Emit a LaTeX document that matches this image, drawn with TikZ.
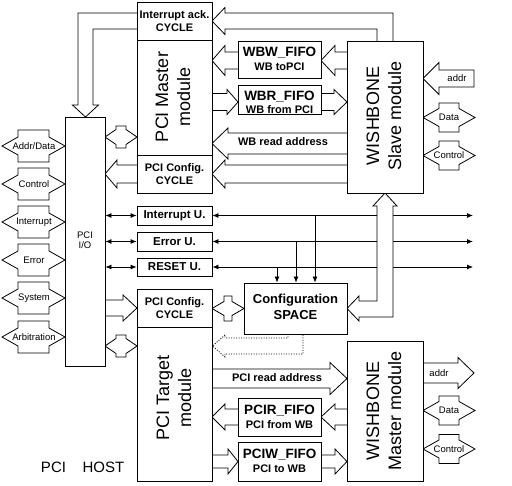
\documentclass[tikz,border=0pt]{standalone}
\usepackage{fontspec}
\setmainfont{Liberation Sans}
\usetikzlibrary{arrows.meta,backgrounds}
\newcommand\fatH[6]{\filldraw[fat] (#1,{#3-(#4)}) -- ({#2-(#6)},{#3-(#4)}) -- ({#2-(#6)},{#3-(#5)}) -- (#2,#3) -- ({#2-(#6)},{#3+(#5)}) -- ({#2-(#6)},{#3+(#4)}) -- (#1,{#3+(#4)});}
\newcommand\fatHc[6]{\filldraw[fat] (#1,{#3-(#4)}) -- ({#2-(#6)},{#3-(#4)}) -- ({#2-(#6)},{#3-(#5)}) -- (#2,#3) -- ({#2-(#6)},{#3+(#5)}) -- ({#2-(#6)},{#3+(#4)}) -- (#1,{#3+(#4)}) -- cycle;}
% double arrow: #4 = half height of the body, #5 = half height at the head base
\newcommand\fatD[6]{\filldraw[fat] (#1,#3) -- ({#1+(#6)},{#3-(#5)}) -- ({#1+(#6)},{#3-(#4)}) -- ({#2-(#6)},{#3-(#4)}) -- ({#2-(#6)},{#3-(#5)}) -- (#2,#3) -- ({#2-(#6)},{#3+(#5)}) -- ({#2-(#6)},{#3+(#4)}) -- ({#1+(#6)},{#3+(#4)}) -- ({#1+(#6)},{#3+(#5)}) -- cycle;}
\newcommand\bx[6]{\node[box, minimum width={(#4-#2)*1pt}, minimum height={(#5-#3)*1pt}] (#1) at ({(#2+#4)/2},{(#3+#5)/2}) {#6};}
\tikzset{
 fat/.style={draw=black, fill=white, line width=0.8pt, line join=miter},
 box/.style={draw, fill=white, line width=0.8pt, inner sep=0pt, align=center, font=\bfseries\fontsize{11}{13}\selectfont},
 fifo/.style={font=\bfseries\fontsize{11}{14}\selectfont},
 unit/.style={font=\bfseries\fontsize{11.5}{13}\selectfont},
 sig/.style={inner sep=0pt, font=\fontsize{9.5}{11}\selectfont},
 lbl/.style={inner sep=0pt, font=\bfseries\fontsize{11}{13}\selectfont},
 big/.style={inner sep=0pt, rotate=90, align=center, font=\fontsize{18}{22}\selectfont},
 thinln/.style={line width=0.8pt, {Latex[length=6pt,width=5pt]}-{Latex[length=6pt,width=5pt]}},
 downln/.style={line width=0.8pt, -{Latex[length=6pt,width=5pt]}},
 dotfat/.style={draw=black, line width=0.8pt, dash pattern=on 1pt off 1.5pt},
}
\begin{document}
\begin{tikzpicture}[x=1pt,y=-1pt]
\useasboundingbox (0,0) rectangle (512,486);
% ---------- boxes ----------
\bx{io}{65}{117}{105}{366}{}
\bx{iack}{137}{2}{212}{40}{Interrupt ack.\\CYCLE}
\bx{pcim}{137}{40}{212}{155}{}
\bx{pcca}{137}{155}{212}{193}{PCI Config.\\CYCLE}
\bx{wbw}{238}{41}{321}{78}{}
\bx{wbr}{238}{85}{321}{114}{}
\bx{slave}{347}{41}{423}{193}{}
\bx{iu}{137}{206}{212}{225}{}
\bx{eu}{137}{232}{212}{251}{}
\bx{ru}{137}{258}{212}{276}{}
\bx{pccb}{137}{289}{212}{327}{PCI Config.\\CYCLE}
\bx{tgt}{137}{327}{212}{481}{}
\bx{cfg}{244}{283}{347}{334}{}
\bx{pcir}{238}{398}{321}{436}{}
\bx{pciw}{238}{442}{321}{481}{}
\bx{master}{347}{341}{423}{481}{}
% ---------- box texts ----------
\node[fifo, align=center] (wbwt) at (279.5,59) {{\fontsize{13.5}{14}\selectfont WBW\_FIFO}\\WB toPCI};
\node[font=\bfseries\fontsize{11}{13}\selectfont, align=center] (wbrt) at (279.5,102) {{\fontsize{13.5}{13}\selectfont WBR\_FIFO}\\WB from PCI};
\node[fifo, align=center] (pcirt) at (279.5,416.5) {{\fontsize{13.5}{14}\selectfont PCIR\_FIFO}\\PCI from WB};
\node[fifo, align=center] (pciwt) at (279.5,461) {{\fontsize{13.5}{14}\selectfont PCIW\_FIFO}\\PCI to WB};
\node[unit] (iut) at (174.5,215.5) {Interrupt U.};
\node[unit] (eut) at (174.5,241.5) {Error U.};
\node[unit] (rut) at (174.5,267) {RESET U.};
\node[font=\bfseries\fontsize{13}{16}\selectfont, align=center] (cfgt) at (295.5,307) {Configuration\\SPACE};
\node[big] (pcimt) at (173,97) {PCI Master\\module};
\node[big] (slavet) at (384,116) {WISHBONE\\Slave module};
\node[big] (tgtt) at (174,398) {PCI Target\\module};
\node[big] (mastert) at (384,411) {WISHBONE\\Master module};
\node[inner sep=0pt, align=center, font=\fontsize{9.5}{10}\selectfont] (iot) at (85,240) {PCI\\I/O};
\node[inner sep=0pt, font=\fontsize{15}{18}\selectfont] (host1) at (53.5,467) {PCI};
\node[inner sep=0pt, font=\fontsize{15}{18}\selectfont] (host2) at (103.5,467) {HOST};
% ---------- connectors ----------
\begin{scope}[on background layer]
\coordinate (iuR) at (473,215.5);
\coordinate (euR) at (473,241.5);
\coordinate (ruR) at (473,267);
\draw[thinln] (io.east |- iu.west) -- (iu.west);
\draw[thinln] (io.east |- eu.west) -- (eu.west);
\draw[thinln] (io.east |- ru.west) -- (ru.west);
\draw[thinln] (iu.east) -- (iuR);
\draw[thinln] (eu.east) -- (euR);
\draw[thinln] (ru.east) -- (ruR);
\coordinate (d1) at (315,215.5);
\coordinate (d2) at (296,241.5);
\coordinate (d3) at (277,267);
\draw[downln] (d1) -- (d1 |- cfg.north);
\draw[downln] (d2) -- (d2 |- cfg.north);
\draw[downln] (d3) -- (d3 |- cfg.north);
% L arrow cfg <-> slave
\filldraw[fat] (347,308.5) -- (359,296) -- (359,301) -- (377,301) -- (377,206) -- (373,206) -- (385,193) -- (397,206) -- (393,206) -- (393,317) -- (359,317) -- (359,321) -- cycle;
% L arrow slave -> iack
\filldraw[fat] (393,41) -- (393,13) -- (225,13) -- (225,7.5) -- (212,21) -- (225,34.5) -- (225,29) -- (377,29) -- (377,41);
% L arrow iack -> io
\filldraw[fat] (137,13) -- (78,13) -- (78,105) -- (72.5,105) -- (85.5,117) -- (98.5,105) -- (93,105) -- (93,29) -- (137,29);
% dotted L arrow cfg -> target
\draw[dotfat] (288,334) -- (288,338) -- (225,338) -- (225,335) -- (212.5,346) -- (225,357) -- (225,354) -- (303,354) -- (303,334);
% straight fat arrows
\fatH{347}{321}{60.5}{8.5}{15}{-14}
\fatH{238}{212}{60.5}{8.5}{15}{-13}
\fatH{212}{238}{102}{8.5}{12.5}{11}
\fatH{321}{347}{102}{8.5}{12.5}{13}
\fatH{347}{212}{143.5}{10.5}{15.5}{-16}
\fatH{347}{212}{174}{9}{14}{-13}
\fatH{137}{105}{174}{9}{14}{-12}
\fatD{105}{137}{137}{11}{7.5}{11}
\fatD{2}{65}{146}{16}{9}{16}
\fatD{2}{65}{184}{16}{9}{16}
\fatD{2}{65}{222}{16}{9}{16}
\fatD{2}{65}{260}{16}{9}{16}
\fatD{2}{65}{298}{16}{9}{16}
\fatD{2}{65}{337}{16}{9}{16}
\fatHc{474}{423}{78.5}{8.5}{16}{-16}
\fatD{423}{475}{117.5}{14.5}{9}{16}
\fatD{423}{475}{155.5}{14.5}{9}{16}
\fatH{105}{137}{308}{8}{13}{14}
\fatD{212}{244}{308.5}{12.5}{7}{12}
\fatD{105}{137}{346}{11}{7.5}{11}
\fatH{212}{347}{378.5}{9.5}{16}{17}
\fatH{347}{321}{417}{8}{13}{-14}
\fatH{238}{212}{417}{8}{13}{-13}
\fatH{212}{238}{461.5}{6.5}{12.5}{10}
\fatH{321}{347}{461.5}{6.5}{12.5}{12}
\fatH{423}{474}{373}{10}{15.5}{16}
\fatD{423}{475}{410.5}{14.5}{9}{16}
\fatD{423}{475}{449}{14.5}{9}{16}
\end{scope}
% ---------- arrow labels ----------
\node[lbl] (wbra) at (283,142) {WB read address};
\node[lbl] (pcra) at (277,378) {PCI read address};
\node[sig] (s1) at (34,146) {Addr/Data};
\node[sig] (s2) at (34,184) {Control};
\node[sig] (s3) at (34,222) {Interrupt};
\node[sig] (s4) at (34,260) {Error};
\node[sig] (s5) at (34,298) {System};
\node[sig] (s6) at (34,337) {Arbitration};
\node[sig] (r1) at (457,78.5) {addr};
\node[sig] (r2) at (449,117.5) {Data};
\node[sig] (r3) at (449,155.5) {Control};
\node[sig] (r4) at (439,373) {addr};
\node[sig] (r5) at (449,410.5) {Data};
\node[sig] (r6) at (449,449) {Control};
\end{tikzpicture}
\end{document}
